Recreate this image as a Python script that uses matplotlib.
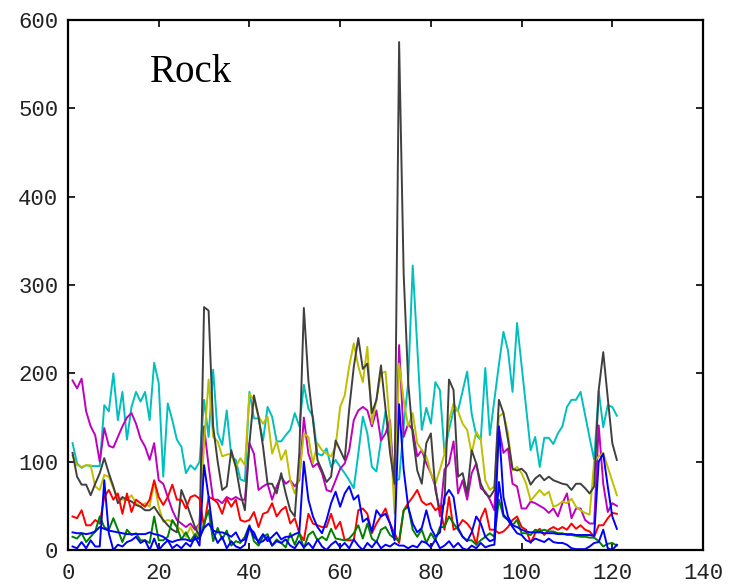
import numpy as np
import matplotlib
matplotlib.use("Agg")
import matplotlib.pyplot as plt

# x positions of the samples
x = np.arange(1, 122)

cyan = [121, 98, 93, 96, 95, 95, 95, 164, 157, 200, 147, 179, 125, 162, 179, 168, 179, 147, 212, 189, 83, 166, 147, 125,
        117, 87, 96, 91, 100, 170, 128, 204, 132, 119, 158, 106, 102, 80, 78, 179, 149, 149, 124, 162, 151, 123, 123, 130,
        136, 155, 140, 187, 160, 151, 109, 107, 115, 94, 102, 94, 87, 79, 70, 109, 151, 132, 94, 89, 124, 157, 132, 79,
        80, 140, 190, 322, 230, 136, 161, 143, 190, 181, 110, 136, 158, 158, 180, 202, 154, 130, 125, 206, 130, 170, 210, 247, 226,
        179, 257, 209, 161, 113, 128, 94, 127, 127, 120, 132, 140, 162, 170, 170, 179, 153, 127, 102, 180, 139, 164, 162, 152]

magenta = [192, 183, 194, 157, 140, 130, 100, 138, 118, 116, 128, 140, 150, 155, 143, 126, 117, 102, 121, 79, 75, 60, 45, 34,
           30, 26, 30, 23, 30, 140, 95, 57, 57, 53, 60, 57, 60, 57, 57, 121, 109, 68, 72, 75, 57, 72, 83, 75,
           79, 72, 79, 150, 109, 94, 98, 87, 68, 66, 79, 92, 98, 113, 147, 158, 162, 158, 140, 158, 124, 132, 147, 60,
           232, 128, 143, 136, 106, 113, 98, 87, 72, 38, 91, 98, 123, 64, 79, 57, 87, 98, 70, 66, 57, 45, 138, 110, 115,
           75, 72, 47, 47, 55, 53, 50, 47, 42, 47, 38, 53, 64, 36, 47, 47, 34, 30, 30, 141, 75, 43, 53, 50]

yellow = [107, 96, 94, 96, 96, 72, 68, 85, 83, 70, 60, 57, 57, 62, 53, 49, 53, 49, 77, 49, 32, 34, 32, 26,
          23, 15, 26, 15, 30, 120, 193, 128, 123, 106, 108, 109, 94, 104, 96, 177, 170, 151, 143, 151, 109, 123, 102, 113,
          79, 64, 83, 132, 128, 98, 121, 113, 109, 106, 117, 162, 175, 208, 234, 208, 190, 230, 143, 170, 200, 202, 140, 41,
          211, 170, 140, 155, 121, 113, 106, 87, 75, 91, 109, 147, 166, 157, 143, 136, 109, 134, 125, 79, 68, 72, 151, 155, 132,
          90, 94, 87, 75, 56, 62, 68, 62, 66, 49, 51, 55, 53, 58, 49, 45, 42, 40, 100, 106, 110, 94, 78, 62]

gray = [110, 83, 74, 74, 62, 75, 87, 104, 87, 72, 53, 60, 57, 55, 51, 49, 45, 45, 49, 41, 34, 28, 23, 20,
        68, 55, 40, 26, 15, 275, 271, 140, 100, 68, 72, 113, 94, 64, 45, 121, 175, 151, 117, 75, 75, 64, 87, 64,
        45, 38, 110, 274, 192, 147, 102, 90, 77, 83, 124, 113, 102, 160, 207, 240, 205, 211, 155, 170, 209, 160, 110, 75,
        575, 313, 190, 130, 90, 75, 121, 132, 68, 45, 53, 193, 181, 83, 87, 64, 113, 98, 75, 64, 60, 68, 170, 155, 125,
        92, 90, 92, 87, 74, 81, 85, 79, 83, 79, 77, 75, 74, 68, 75, 75, 70, 64, 72, 181, 224, 172, 121, 102]

red = [38, 36, 45, 28, 28, 34, 30, 60, 68, 57, 64, 41, 64, 43, 57, 53, 49, 57, 79, 60, 51, 60, 74, 57,
       57, 47, 60, 62, 58, 26, 60, 58, 53, 41, 58, 49, 57, 34, 32, 34, 43, 26, 41, 43, 53, 38, 45, 49,
       30, 36, 19, 11, 41, 30, 28, 26, 26, 41, 24, 32, 11, 11, 11, 45, 47, 41, 19, 30, 38, 47, 30, 19,
       8, 45, 53, 60, 68, 55, 51, 53, 45, 49, 23, 60, 23, 26, 34, 30, 23, 6, 36, 47, 23, 23, 19, 21, 26,
       34, 38, 26, 23, 8, 19, 24, 17, 23, 26, 23, 26, 23, 30, 24, 28, 23, 21, 15, 28, 28, 36, 42, 41]

green = [15, 13, 19, 9, 15, 21, 38, 26, 23, 36, 23, 9, 23, 17, 19, 11, 11, 8, 38, 11, 11, 15, 34, 26,
         12, 20, 10, 18, 12, 30, 45, 10, 25, 12, 22, 5, 10, 8, 15, 28, 10, 5, 15, 18, 5, 12, 8, 3,
         19, 6, 19, 2, 17, 21, 11, 15, 11, 24, 13, 12, 11, 13, 19, 28, 13, 30, 13, 9, 23, 26, 17, 13,
         11, 45, 49, 23, 15, 23, 8, 19, 11, 26, 26, 38, 30, 23, 15, 11, 11, 6, 11, 15, 19, 15, 57, 38, 34,
         28, 34, 19, 19, 17, 23, 21, 23, 21, 21, 19, 19, 17, 17, 16, 15, 15, 14, 14, 10, 4, 7, 8, 5]

blue_a = [20, 19, 19, 18, 19, 21, 26, 24, 22, 21, 20, 19, 18, 18, 18, 18, 18, 20, 18, 17, 15, 11, 9, 11,
          12, 12, 10, 12, 14, 25, 30, 22, 20, 20, 18, 15, 20, 10, 12, 27, 15, 10, 18, 10, 15, 20, 12, 15,
          15, 18, 20, 100, 57, 38, 26, 19, 34, 53, 66, 49, 64, 72, 57, 62, 32, 36, 21, 45, 38, 41, 30, 11,
          165, 91, 49, 30, 20, 25, 45, 25, 15, 20, 60, 68, 60, 25, 15, 10, 20, 38, 30, 15, 10, 12, 140, 60, 38,
          28, 26, 23, 21, 20, 20, 20, 19, 19, 19, 18, 18, 18, 18, 17, 17, 17, 17, 16, 100, 109, 72, 38, 24]

blue_b = [4, 2, 9, 2, 11, 4, 4, 79, 19, 0, 6, 4, 9, 11, 15, 8, 11, 0, 13, 0, 6, 11, 2, 6,
          2, 8, 4, 15, 5, 96, 60, 20, 8, 15, 2, 10, 4, 2, 6, 25, 20, 8, 10, 15, 5, 10, 8, 12,
          5, 2, 10, 3, 8, 2, 12, 4, 0, 6, 10, 3, 8, 2, 12, 5, 0, 8, 3, 10, 2, 6, 4, 8,
          5, 5, 2, 5, 3, 10, 8, 3, 12, 2, 5, 10, 3, 8, 2, 0, 5, 2, 8, 3, 5, 6, 77, 40, 34,
          26, 19, 17, 11, 9, 13, 11, 9, 13, 9, 8, 8, 6, 2, 1, 1, 1, 4, 8, 9, 23, 2, 0, 6]

series = [(cyan, '#00bfbf'), (magenta, '#bf00bf'), (yellow, '#bfbf00'), (gray, '#404040'),
          (red, '#ff0000'), (green, '#008000'), (blue_a, '#0000ff'), (blue_b, '#0000ff')]

fig = plt.figure(figsize=(7.35, 5.86), dpi=100)
ax = fig.add_axes([0.0925, 0.0614, 0.864, 0.9045])

for vals, col in series:
    ax.plot(x, vals, color=col, lw=1.4)

ax.set_xlim(0, 140)
ax.set_ylim(0, 600)
ax.set_xticks(range(0, 141, 20))
ax.set_yticks(range(0, 601, 100))

for sp in ax.spines.values():
    sp.set_linewidth(1.6)

ax.tick_params(direction='in', top=True, right=True, length=5, width=1.2,
               labelsize=16, pad=7)
ax.tick_params(axis='x', pad=9)
for lab in ax.get_xticklabels() + ax.get_yticklabels():
    lab.set_family('Liberation Mono')
    lab.set_color('#222222')

ax.text(0.129, 0.8836, 'Rock', transform=ax.transAxes, fontsize=28,
        family='Liberation Serif', va='baseline', ha='left')

fig.savefig('out.png', dpi=100)
